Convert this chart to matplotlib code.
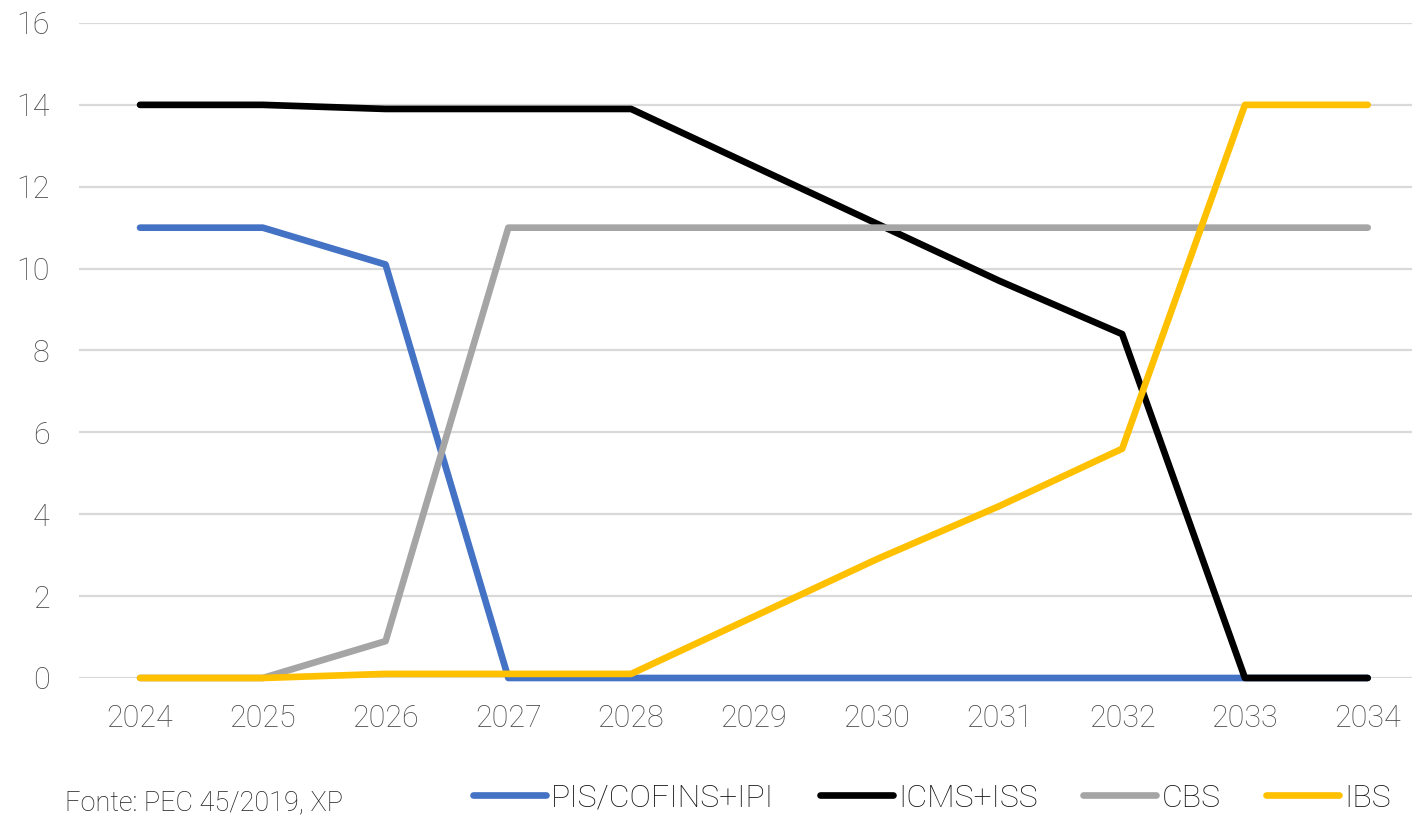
import matplotlib
matplotlib.use("Agg")
import matplotlib.pyplot as plt
from matplotlib.lines import Line2D

plt.rcParams['font.family'] = ['Roboto', 'DejaVu Sans']

years = ["2024", "2025", "2026", "2027", "2028", "2029", "2030", "2031", "2032", "2033", "2034"]
pis_cofins_ipi = [11, 11, 10.1, 0, 0, 0, 0, 0, 0, 0, 0]
icms_iss = [14, 14, 13.9, 13.9, 13.9, 12.5, 11.1, 9.7, 8.4, 0, 0]
cbs = [0, 0, 0.9, 11, 11, 11, 11, 11, 11, 11, 11]
ibs = [0, 0, 0.1, 0.1, 0.1, 1.5, 2.9, 4.2, 5.6, 14, 14]

series_names = ["PIS/COFINS+IPI", "ICMS+ISS", "CBS", "IBS"]
series_colors = ["#4472C4", "#000000", "#A5A5A5", "#FFC000"]
source_note = "Fonte: PEC 45/2019, XP"

LW = 4.8

fig = plt.figure(figsize=(14.12, 8.21), dpi=100)
ax = fig.add_axes([0.0557, 0.1742, 0.9564, 0.7978])

x = list(range(len(years)))
for vals, name, color in zip([pis_cofins_ipi, icms_iss, cbs, ibs], series_names, series_colors):
    ax.plot(x, vals, color=color, lw=LW, label=name, clip_on=False,
            solid_capstyle='round', solid_joinstyle='round', zorder=3)

ax.set_xlim(-0.5, len(years) - 0.5)
ax.set_ylim(0, 16)
ax.set_yticks(range(0, 17, 2))
ax.set_xticks(x)
ax.set_xticklabels(years)
ax.grid(axis='y', color='#D9D9D9', lw=1.6, zorder=0)
ax.grid(axis='x', visible=False)
for s in ax.spines.values():
    s.set_visible(False)
ax.tick_params(axis='both', length=0, labelsize=22, labelcolor='#4A4A4A')
ax.tick_params(axis='y', pad=21)
ax.tick_params(axis='x', pad=19)
for lab in ax.get_xticklabels() + ax.get_yticklabels():
    lab.set_fontweight('light')

fig.text(0.046, 0.0134, source_note, fontsize=19.5, color='#1F1F1F',
         ha='left', va='baseline', fontweight='light')

handles = [Line2D([0], [0], color=c, lw=LW, solid_capstyle='round') for c in series_colors]
leg = fig.legend(handles, series_names, loc='center left', bbox_to_anchor=(0.335, 0.028),
                 ncol=4, frameon=False, fontsize=23, labelcolor='#141414',
                 handlelength=2.3, handletextpad=0.15, columnspacing=1.42,
                 borderpad=0, borderaxespad=0)
for t in leg.get_texts():
    t.set_fontweight('light')

fig.savefig("out.png", dpi=100)
